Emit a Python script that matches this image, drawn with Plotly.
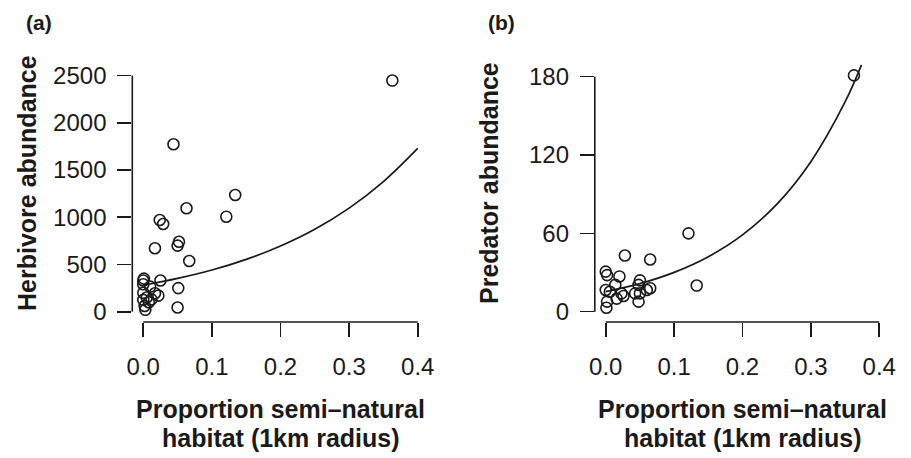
import plotly.graph_objects as go

# ---- data ----
herb_x = [0.363, 0.044, 0.134, 0.063, 0.121, 0.024, 0.029, 0.017, 0.052, 0.050,
          0.067, 0.001, 0.025, 0.051, 0.050, 0.000, 0.010, 0.000, 0.017, 0.022,
          0.000, 0.012, 0.002, 0.003, 0.005, 0.000, 0.008]
herb_y = [2447, 1773, 1236, 1095, 1006, 971, 929, 672, 741, 700,
          537, 350, 330, 250, 45, 290, 265, 200, 195, 170,
          125, 130, 60, 20, 150, 330, 100]

pred_x = [0.363, 0.121, 0.028, 0.065, 0.133, 0.000, 0.002, 0.020, 0.050, 0.048,
          0.060, 0.050, 0.014, 0.000, 0.023, 0.006, 0.048, 0.002, 0.016, 0.001,
          0.043, 0.065, 0.026]
pred_y = [181, 60, 43, 40, 20, 30.7, 28, 27, 24, 20.5,
          16.6, 14, 20.5, 16.6, 14, 15.3, 7.7, 7.7, 10, 3,
          14, 18, 12]

herb_fit_x = [0.0, 0.05, 0.10, 0.15, 0.20, 0.25, 0.30, 0.35, 0.40]
herb_fit_y = [280, 352, 441, 554, 696, 873, 1096, 1377, 1728]

pred_fit_x = [0.0, 0.05, 0.10, 0.15, 0.20, 0.25, 0.30, 0.35, 0.374]
pred_fit_y = [15.4, 21.5, 30.1, 42.1, 58.8, 82.2, 114.9, 160.6, 189]

x_ticks = [0.0, 0.1, 0.2, 0.3, 0.4]
x_tick_text = ["0.0", "0.1", "0.2", "0.3", "0.4"]
herb_ticks = [0, 500, 1000, 1500, 2000, 2500]
pred_ticks = [0, 60, 120, 180]

panel_labels = ["(a)", "(b)"]
y_titles = ["Herbivore abundance", "Predator abundance"]
x_title_lines = ["Proportion semi\u2013natural", "habitat (1km radius)"]

W, H = 911, 458
FONT = "Liberation Sans, Arial, Helvetica, sans-serif"
INK = "#1a1a1a"


def px_x(p):
    return p / W


def px_y(p):
    return 1 - p / H


fig = go.Figure()

marker = dict(symbol="circle-open", size=11, color=INK, line=dict(width=1.6, color=INK))

fig.add_trace(go.Scatter(x=herb_x, y=herb_y, mode="markers", marker=marker,
                         xaxis="x", yaxis="y", showlegend=False))
fig.add_trace(go.Scatter(x=herb_fit_x, y=herb_fit_y, mode="lines",
                         line=dict(color=INK, width=1.7, shape="spline"),
                         xaxis="x", yaxis="y", showlegend=False))
fig.add_trace(go.Scatter(x=pred_x, y=pred_y, mode="markers", marker=marker,
                         xaxis="x2", yaxis="y2", showlegend=False))
fig.add_trace(go.Scatter(x=pred_fit_x, y=pred_fit_y, mode="lines",
                         line=dict(color=INK, width=1.7, shape="spline"),
                         xaxis="x2", yaxis="y2", showlegend=False))

ydom = [px_y(322), px_y(44)]
dom_a = [px_x(132.3), px_x(428.7)]
dom_b = [px_x(594.8), px_x(890.2)]

tickfont = dict(family=FONT, size=24, color=INK)
common_x = dict(showgrid=False, zeroline=False, showline=False, ticks="outside",
                ticklen=14, tickwidth=1.6, tickcolor=INK, tickfont=tickfont,
                tickvals=x_ticks, ticktext=x_tick_text, ticklabelstandoff=9,
                fixedrange=True, automargin=False)
common_y = dict(showgrid=False, zeroline=False, showline=False, ticks="outside",
                ticklen=14, tickwidth=1.6, tickcolor=INK, tickfont=tickfont,
                ticklabelstandoff=6, fixedrange=True, automargin=False)

fig.update_layout(
    width=W, height=H,
    margin=dict(l=0, r=0, t=0, b=0),
    paper_bgcolor="white", plot_bgcolor="white",
    font=dict(family=FONT, color=INK),
    hovermode=False,
    xaxis=dict(domain=dom_a, range=[-0.016, 0.416], anchor="y", **common_x),
    yaxis=dict(domain=ydom, range=[-109, 2834], anchor="x",
               tickvals=herb_ticks, **common_y),
    xaxis2=dict(domain=dom_b, range=[-0.016, 0.416], anchor="y2", **common_x),
    yaxis2=dict(domain=ydom, range=[-7.9, 205], anchor="x2",
                tickvals=pred_ticks, **common_y),
)

# R-style axis lines spanning only the tick range
for xa, ya, yt in [("x", "y", herb_ticks), ("x2", "y2", pred_ticks)]:
    fig.add_shape(type="line", xref=xa, yref=ya + " domain",
                  x0=x_ticks[0], x1=x_ticks[-1], y0=0, y1=0,
                  line=dict(color=INK, width=1.6))
    fig.add_shape(type="line", xref=xa + " domain", yref=ya,
                  x0=0, x1=0, y0=yt[0], y1=yt[-1],
                  line=dict(color=INK, width=1.6))

titlefont = dict(family=FONT, size=25, color=INK, weight="bold")
centers = [(dom_a[0] + dom_a[1]) / 2, (dom_b[0] + dom_b[1]) / 2]
ycenter = (ydom[0] + ydom[1]) / 2
label_x = [px_x(39), px_x(501)]
ytitle_x = [px_x(27), px_x(489)]

for i in range(2):
    fig.add_annotation(text=x_title_lines[0], x=centers[i], y=px_y(409),
                       xref="paper", yref="paper", showarrow=False,
                       xanchor="center", yanchor="middle", font=titlefont)
    fig.add_annotation(text=x_title_lines[1], x=centers[i], y=px_y(438),
                       xref="paper", yref="paper", showarrow=False,
                       xanchor="center", yanchor="middle", font=titlefont)
    fig.add_annotation(text=y_titles[i], x=ytitle_x[i], y=ycenter,
                       xref="paper", yref="paper", showarrow=False,
                       textangle=-90, xanchor="center", yanchor="middle",
                       font=titlefont)
    fig.add_annotation(text=panel_labels[i], x=label_x[i], y=px_y(22),
                       xref="paper", yref="paper", showarrow=False,
                       xanchor="center", yanchor="middle",
                       font=dict(family=FONT, size=21, color=INK, weight="bold"))

fig.write_html("out.html",
               config={"displayModeBar": False, "staticPlot": True},
               post_script="document.body.style.margin='0';"
                           "document.body.style.overflow='hidden';")
